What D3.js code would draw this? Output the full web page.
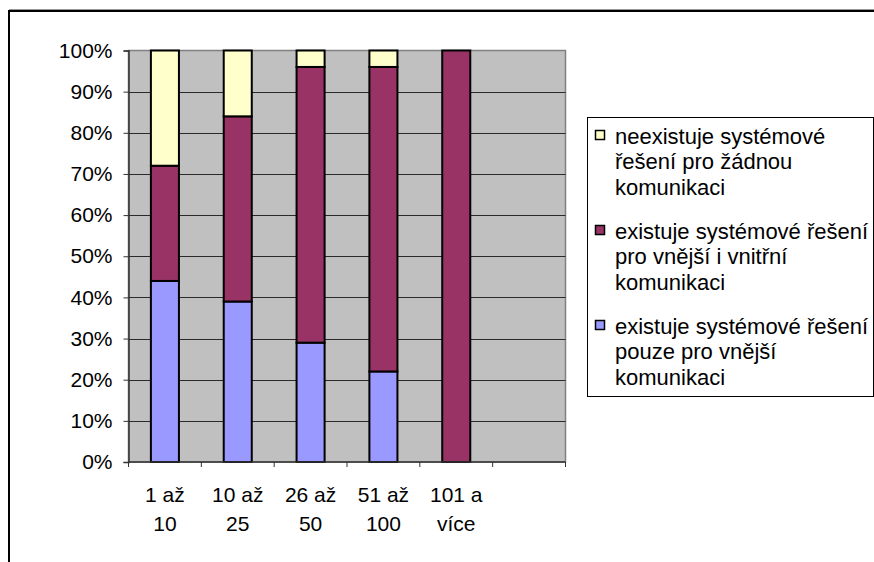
<!DOCTYPE html>
<html>
<head>
<meta charset="utf-8">
<script src="https://cdn.jsdelivr.net/npm/d3@7"></script>
<style>
  html, body { margin: 0; padding: 0; background: #fff; }
  svg { display: block; }
  text { font-family: "Liberation Sans", Arial, sans-serif; fill: #000; }
</style>
</head>
<body>
<svg id="chart" width="874" height="562"></svg>
<script>
// Company size groups (number of employees), each label split into two lines
const categories = [["1 až", "10"], ["10 až", "25"], ["26 až", "50"], ["51 až", "100"], ["101 a", "více"]];
// The axis reserves one extra, empty slot on the right
const slotCount = 6;

// Stacked shares in percent, bottom to top
const seriesNames = [
  "existuje systémové řešení pouze pro vnější komunikaci",
  "existuje systémové řešení pro vnější i vnitřní komunikaci",
  "neexistuje systémové řešení pro žádnou komunikaci"
];
const onlyExternal   = [44, 39, 29, 22, 0];
const externalInternal = [28, 45, 67, 74, 100];
const noSolution     = [28, 16, 4, 4, 0];
const seriesValues = [onlyExternal, externalInternal, noSolution];
const seriesColors = ["#9999FF", "#993366", "#FFFFCC"];

// Legend entries (top series first), wrapped as drawn
const legendLines = [
  ["neexistuje systémové", "řešení pro žádnou", "komunikaci"],
  ["existuje systémové řešení", "pro vnější i vnitřní", "komunikaci"],
  ["existuje systémové řešení", "pouze pro vnější", "komunikaci"]
];
const yTicks = [0, 10, 20, 30, 40, 50, 60, 70, 80, 90, 100];

const svg = d3.select("#chart");
const axisFont = 21;
const legendFont = 22;

// Outer chart frame
svg.append("line").attr("x1", 9).attr("x2", 874).attr("y1", 9.5).attr("y2", 9.5)
  .attr("stroke", "#999").attr("stroke-width", 1);
svg.append("rect").attr("x", 9).attr("y", 11).attr("width", 880).attr("height", 570)
  .attr("fill", "none").attr("stroke", "#000").attr("stroke-width", 2);

const plot = { left: 128.5, right: 565.5, top: 50.5, bottom: 462 };

const x = d3.scaleBand()
  .domain(d3.range(slotCount))
  .range([plot.left, plot.right])
  .paddingInner(0).paddingOuter(0);
const y = d3.scaleLinear().domain([0, 100]).range([plot.bottom, plot.top]);

// Plot background
svg.append("rect")
  .attr("x", plot.left).attr("y", plot.top)
  .attr("width", plot.right - plot.left).attr("height", plot.bottom - plot.top)
  .attr("fill", "#C0C0C0").attr("stroke", "#808080").attr("stroke-width", 1.5);

// Horizontal gridlines
svg.append("g").selectAll("line")
  .data(yTicks.filter(t => t > 0 && t < 100))
  .join("line")
  .attr("x1", plot.left).attr("x2", plot.right)
  .attr("y1", d => Math.round(y(d)) + 0.5).attr("y2", d => Math.round(y(d)) + 0.5)
  .attr("stroke", "#2a2a2a").attr("stroke-width", 1.2);

// Stacked bars
const barW = x.bandwidth() * 0.385;
const stackData = categories.map((c, i) => {
  const row = { i };
  seriesValues.forEach((vals, s) => row["s" + s] = vals[i]);
  return row;
});
const stacked = d3.stack().keys(seriesValues.map((v, s) => "s" + s))(stackData);

stacked.forEach((layer, s) => {
  svg.append("g").selectAll("rect")
    .data(layer.filter(d => d[1] - d[0] > 0))
    .join("rect")
    .attr("x", d => x(d.data.i) + (x.bandwidth() - barW) / 2)
    .attr("y", d => y(d[1]))
    .attr("width", barW)
    .attr("height", d => y(d[0]) - y(d[1]))
    .attr("fill", seriesColors[s])
    .attr("stroke", "#000").attr("stroke-width", 2);
});

// Y axis
const yAxis = svg.append("g")
  .attr("transform", `translate(${plot.left},0)`)
  .call(d3.axisLeft(y).tickValues(yTicks).tickFormat(d => d + "%").tickSize(5).tickPadding(11));
yAxis.select(".domain").attr("stroke", "#333").attr("stroke-width", 1.5);
yAxis.selectAll(".tick line").attr("stroke", "#333");
yAxis.selectAll("text").style("font-size", axisFont + "px")
  .style("font-family", "'Liberation Sans', Arial, sans-serif");

// X axis: tick marks at slot boundaries, labels centred in slots
const xAxisG = svg.append("g");
xAxisG.append("line")
  .attr("x1", plot.left).attr("x2", plot.right)
  .attr("y1", plot.bottom).attr("y2", plot.bottom)
  .attr("stroke", "#333").attr("stroke-width", 1.5);
xAxisG.selectAll("line.tick")
  .data(d3.range(slotCount + 1))
  .join("line").attr("class", "tick")
  .attr("x1", i => plot.left + i * x.step()).attr("x2", i => plot.left + i * x.step())
  .attr("y1", plot.bottom).attr("y2", plot.bottom + 5)
  .attr("stroke", "#333").attr("stroke-width", 1);

const xLabels = xAxisG.selectAll("text.cat")
  .data(categories)
  .join("text").attr("class", "cat")
  .attr("text-anchor", "middle")
  .style("font-size", axisFont + "px");
xLabels.each(function(lines, i) {
  const t = d3.select(this);
  lines.forEach((ln, k) => {
    t.append("tspan")
      .attr("x", x(i) + x.bandwidth() / 2)
      .attr("y", 494.5 + k * 29)
      .attr("dy", "0.36em")
      .text(ln);
  });
});

// Legend
const legend = svg.append("g");
legend.append("rect")
  .attr("x", 587.5).attr("y", 117.5).attr("width", 286).attr("height", 279)
  .attr("fill", "#fff").attr("stroke", "#000").attr("stroke-width", 1);

const legendOrder = [2, 1, 0];
legendOrder.forEach((s, k) => {
  const gy = 136 + k * 95;
  legend.append("rect")
    .attr("x", 595.5).attr("y", gy - 5.5).attr("width", 9).attr("height", 9)
    .attr("fill", seriesColors[s]).attr("stroke", "#000").attr("stroke-width", 1.5);
  const t = legend.append("text").style("font-size", legendFont + "px");
  legendLines[k].forEach((ln, j) => {
    t.append("tspan").attr("x", 615).attr("y", gy + j * 25.5).attr("dy", "0.36em").text(ln);
  });
});
</script>
</body>
</html>
